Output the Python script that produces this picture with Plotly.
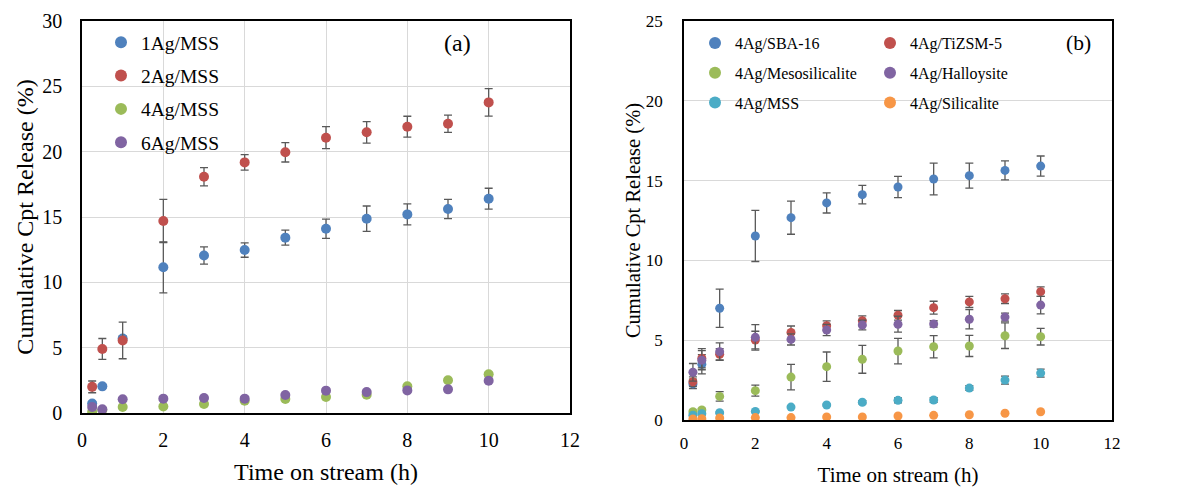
import plotly.graph_objects as go

# ---------------- data ----------------
time_h = [0.25, 0.5, 1, 2, 3, 4, 5, 6, 7, 8, 9, 10]

# panel (a)
ag1_mss = [0.72, 2.04, 5.7, 11.15, 12.06, 12.47, 13.42, 14.1, 14.87, 15.2, 15.61, 16.4]
ag1_err = [0.15, 0.15, 0.2, 1.95, 0.66, 0.55, 0.57, 0.74, 0.97, 0.8, 0.74, 0.8]
ag2_mss = [2.0, 4.9, 5.55, 14.7, 18.08, 19.18, 19.95, 21.07, 21.48, 21.91, 22.14, 23.77]
ag2_err = [0.45, 0.8, 1.4, 1.65, 0.7, 0.6, 0.74, 0.84, 0.82, 0.8, 0.66, 1.05]
ag4_mss = [0.1, 0.23, 0.46, 0.5, 0.69, 0.94, 1.07, 1.22, 1.4, 2.04, 2.5, 2.96]
ag4_err = [0.05, 0.05, 0.05, 0.05, 0.05, 0.05, 0.05, 0.05, 0.05, 0.1, 0.15, 0.15]
ag6_mss = [0.46, 0.28, 1.05, 1.1, 1.15, 1.1, 1.38, 1.71, 1.6, 1.73, 1.81, 2.47]
ag6_err = [0.05, 0.05, 0.05, 0.05, 0.05, 0.05, 0.05, 0.05, 0.05, 0.05, 0.05, 0.1]

# panel (b)
sba16 = [2.26, 3.49, 7.0, 11.53, 12.68, 13.6, 14.12, 14.6, 15.1, 15.31, 15.64, 15.91]
sba16_err = [0.3, 0.6, 1.2, 1.6, 1.04, 0.63, 0.58, 0.67, 1.0, 0.78, 0.6, 0.63]
tizsm5 = [2.4, 3.87, 4.12, 5.01, 5.49, 5.91, 6.22, 6.56, 7.04, 7.4, 7.6, 8.04]
tizsm5_err = [0.3, 0.6, 0.35, 0.55, 0.4, 0.3, 0.3, 0.3, 0.4, 0.35, 0.3, 0.3]
mesosil = [0.52, 0.63, 1.48, 1.84, 2.69, 3.34, 3.8, 4.32, 4.59, 4.64, 5.28, 5.22]
mesosil_err = [0.1, 0.1, 0.3, 0.35, 0.8, 0.92, 0.87, 0.8, 0.7, 0.66, 0.8, 0.52]
halloy = [2.99, 3.75, 4.28, 5.18, 5.05, 5.64, 5.95, 6.0, 6.02, 6.31, 6.45, 7.2]
halloy_err = [0.55, 0.6, 0.55, 0.8, 0.35, 0.35, 0.3, 0.5, 0.2, 0.6, 0.25, 0.55]
mss_b = [0.3, 0.39, 0.46, 0.54, 0.81, 0.94, 1.11, 1.23, 1.25, 2.0, 2.5, 2.94]
mss_b_err = [0.05, 0.05, 0.05, 0.05, 0.05, 0.05, 0.1, 0.15, 0.15, 0.15, 0.25, 0.25]
silical = [0.06, 0.08, 0.13, 0.15, 0.15, 0.19, 0.19, 0.25, 0.29, 0.33, 0.42, 0.52]

x_ticks = [0, 2, 4, 6, 8, 10, 12]
y_ticks_a = [0, 5, 10, 15, 20, 25, 30]
y_ticks_b = [0, 5, 10, 15, 20, 25]

BLUE, RED, GREEN, PURPLE, AQUA, ORANGE = "#4F81BD", "#C0504D", "#9BBB59", "#8064A2", "#4BACC6", "#F79646"
ERRC = "#595959"
FONT = "'Liberation Serif', 'Times New Roman', Times, serif"

fig = go.Figure()


def add(x, y, err, name, color, xa, ya, legend, group, size):
    ed = None
    if err is not None:
        ed = dict(type="data", array=err, visible=True, color=ERRC, thickness=1.3, width=4)
    fig.add_trace(go.Scatter(
        x=x, y=y, mode="markers", name=name, error_y=ed,
        marker=dict(color=color, size=size, line=dict(width=0)),
        xaxis=xa, yaxis=ya, legend=legend, legendgroup=group,
    ))


add(time_h, ag1_mss, ag1_err, "1Ag/MSS", BLUE, "x", "y", "legend", "a1", 10)
add(time_h, ag2_mss, ag2_err, "2Ag/MSS", RED, "x", "y", "legend", "a2", 10)
add(time_h, ag4_mss, ag4_err, "4Ag/MSS", GREEN, "x", "y", "legend", "a3", 10)
add(time_h, ag6_mss, ag6_err, "6Ag/MSS", PURPLE, "x", "y", "legend", "a4", 10)

add(time_h, sba16, sba16_err, "4Ag/SBA-16", BLUE, "x2", "y2", "legend2", "b1", 9)
add(time_h, tizsm5, tizsm5_err, "4Ag/TiZSM-5", RED, "x2", "y2", "legend3", "b2", 9)
add(time_h, mesosil, mesosil_err, "4Ag/Mesosilicalite", GREEN, "x2", "y2", "legend2", "b3", 9)
add(time_h, halloy, halloy_err, "4Ag/Halloysite", PURPLE, "x2", "y2", "legend3", "b4", 9)
add(time_h, mss_b, mss_b_err, "4Ag/MSS", AQUA, "x2", "y2", "legend2", "b5", 9)
add(time_h, silical, None, "4Ag/Silicalite", ORANGE, "x2", "y2", "legend3", "b6", 9)

# figure canvas (page body has an 8px margin)
W, H = 1170, 479


def px(v):
    return v / W


def py(v):
    return 1 - v / H


def f(size):
    return dict(family=FONT, size=size, color="#000")


base_axis = dict(showline=True, linecolor="#000", linewidth=1.6, mirror=True, zeroline=False,
                 ticks="", automargin=False, gridcolor="#D9D9D9", gridwidth=1)

fig.update_layout(
    width=W, height=H,
    margin=dict(l=0, r=0, t=0, b=0, autoexpand=False),
    paper_bgcolor="white", plot_bgcolor="white",
    showlegend=True,
    xaxis=dict(domain=[px(74), px(562)], anchor="y", range=[0, 12], tickvals=x_ticks, showgrid=True,
               tickfont=f(20), ticklabelstandoff=8,
               title=dict(text="Time on stream (h)", font=f(24), standoff=13), **base_axis),
    yaxis=dict(domain=[py(405), py(13)], anchor="x", range=[0, 30], tickvals=y_ticks_a,
               tickfont=f(20), ticklabelstandoff=14,
               title=dict(text="Cumulative Cpt Release (%)", font=f(24), standoff=2), **base_axis),
    xaxis2=dict(domain=[px(676), px(1104)], anchor="y2", range=[0, 12], tickvals=x_ticks, showgrid=False,
                tickfont=f(17), ticklabelstandoff=7,
                title=dict(text="Time on stream (h)", font=f(21), standoff=16), **base_axis),
    yaxis2=dict(domain=[py(412), py(13)], anchor="x2", range=[0, 25], tickvals=y_ticks_b,
                tickfont=f(17), ticklabelstandoff=16,
                title=dict(text="Cumulative Cpt Release (%)", font=f(20.5), standoff=0), **base_axis),
    legend=dict(x=px(93), y=py(15), xanchor="left", yanchor="top", font=f(19.5),
                bgcolor="rgba(0,0,0,0)", tracegroupgap=5, itemsizing="constant"),
    legend2=dict(x=px(687), y=py(18), xanchor="left", yanchor="top", font=f(16),
                 bgcolor="rgba(0,0,0,0)", tracegroupgap=6, itemsizing="constant"),
    legend3=dict(x=px(862), y=py(18), xanchor="left", yanchor="top", font=f(16),
                 bgcolor="rgba(0,0,0,0)", tracegroupgap=6, itemsizing="constant"),
    annotations=[
        dict(text="(a)", xref="paper", yref="paper", x=px(449), y=py(35), xanchor="center",
             yanchor="middle", showarrow=False, font=f(24)),
        dict(text="(b)", xref="paper", yref="paper", x=px(1070), y=py(35), xanchor="center",
             yanchor="middle", showarrow=False, font=f(21.5)),
    ],
)

fig.write_html("out.html")
